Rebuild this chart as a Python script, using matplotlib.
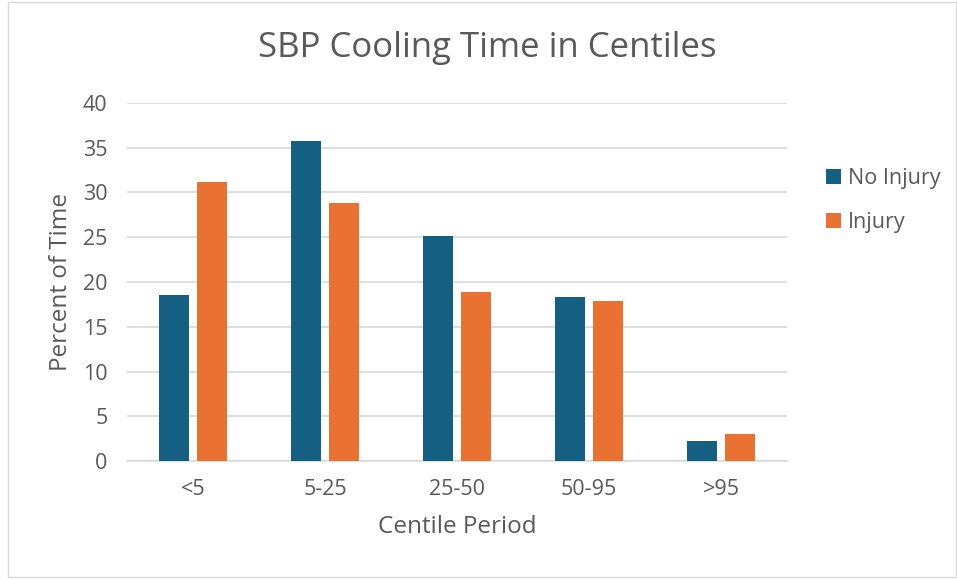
import numpy as np
import matplotlib.pyplot as plt
from matplotlib.patches import Rectangle

categories = ['<5', '5-25', '25-50', '50-95', '>95']
no_injury = [18.5, 35.8, 25.1, 18.3, 2.2]
injury = [31.2, 28.8, 18.9, 17.9, 3.0]

blue = '#156082'
orange = '#E97132'
grey_text = '#595959'

plt.rcParams['font.family'] = ['Open Sans', 'DejaVu Sans']

fig = plt.figure(figsize=(9.57, 5.79), dpi=100)
ax = fig.add_axes([127 / 957, 1 - 461 / 579, 660 / 957, 358 / 579])

x = np.arange(len(categories))
w = 0.225
ax.bar(x - 0.142, no_injury, w, color=blue, label='No Injury', zorder=3)
ax.bar(x + 0.142, injury, w, color=orange, label='Injury', zorder=3)

ax.set_xlim(-0.5, len(categories) - 0.5)
ax.set_ylim(0, 40)
ax.set_yticks(range(0, 41, 5))
ax.set_xticks(x)
ax.set_xticklabels(categories)
ax.yaxis.grid(True, color='#D9D9D9', linewidth=1.2, zorder=0)
for s in ['top', 'right', 'left']:
    ax.spines[s].set_visible(False)
ax.spines['bottom'].set_color('#D9D9D9')
ax.spines['bottom'].set_linewidth(1.2)
ax.tick_params(axis='both', length=0, labelsize=15.5, colors=grey_text)
ax.tick_params(axis='y', pad=14)
ax.tick_params(axis='x', pad=13)

ax.set_xlabel('Centile Period', fontsize=17.5, color=grey_text, labelpad=11)
ax.set_ylabel('Percent of Time', fontsize=17.5, color=grey_text, labelpad=7)

fig.text(487 / 957, 1 - 48 / 579, 'SBP Cooling Time in Centiles', fontsize=25,
         color=grey_text, ha='center', va='center')

leg = fig.legend(loc='upper left', bbox_to_anchor=(807 / 957, 1 - 149 / 579),
                 frameon=False, fontsize=15.5, handlelength=0.7, handleheight=0.7,
                 handletextpad=0.3, labelspacing=1.05)
for t in leg.get_texts():
    t.set_color(grey_text)

fig.patches.append(Rectangle((8 / 957, 2 / 579), 948 / 957, 575 / 579,
                             transform=fig.transFigure, fill=False,
                             edgecolor='#D9D9D9', linewidth=1))

fig.savefig('out.png', dpi=100)
